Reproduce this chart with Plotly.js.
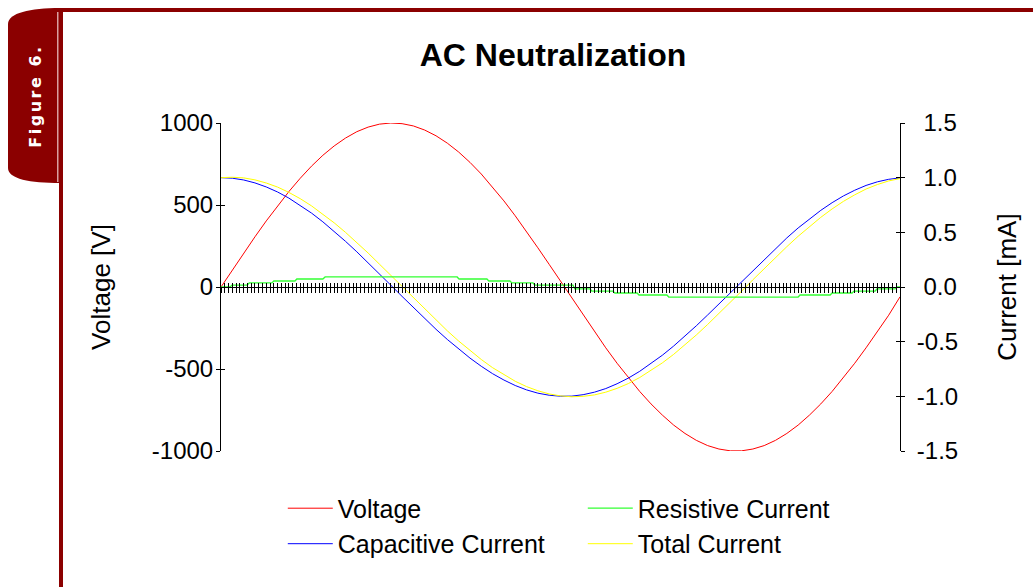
<!DOCTYPE html>
<html>
<head>
<meta charset="utf-8">
<script src="https://cdn.plot.ly/plotly-3.0.1.min.js"></script>
<style>
  html, body { margin: 0; padding: 0; background: #ffffff; }
  #wrap { position: relative; width: 1033px; height: 587px; overflow: hidden; }
  #chart { position: absolute; left: 0; top: 0; width: 1033px; height: 587px; }
  #deco { position: absolute; left: 0; top: 0; pointer-events: none; }
</style>
</head>
<body>
<div id="wrap">
  <div id="chart"></div>
  <svg id="deco" width="1033" height="587" xmlns="http://www.w3.org/2000/svg">
    <path d="M 60 8 L 60 183 C 30 183 8 179 8 168 L 8 24 C 8 13 30 8 60 8 Z" fill="#8b0000"/>
    <rect x="57" y="12" width="1.5" height="170" fill="#d9a0a0"/>
    <rect x="59" y="8" width="4" height="579" fill="#8b0000"/>
    <rect x="59" y="8" width="974" height="4" fill="#8b0000"/>
    <text x="0" y="0" transform="translate(41,96) rotate(-90)" text-anchor="middle"
          font-family="DejaVu Sans, Verdana, sans-serif" font-weight="bold" font-size="16"
          letter-spacing="2.5" fill="#ffffff">Figure 6.</text>
  </svg>
</div>
<script>
// ---- data ----
const chartTitle = "AC Neutralization";
const seriesNames = ["Voltage", "Resistive Current", "Capacitive Current", "Total Current"];

// sample index (x positions of the samples)
const sampleIndex = [0,3,6,9,12,15,18,21,24,27,30,33,36,39,42,45,48,51,54,57,60,63,66,69,72,75,78,81,84,87,90,
  93,96,99,102,105,108,111,114,117,120,123,126,129,132,135,138,141,144,147,150,153,156,159,162,165,168,171,174,177,180];

// Voltage [V]
const voltage = [0,103,206,306,403,495,582,663,737,803,860,908,947,975,993,1000,996,982,957,922,877,823,760,689,610,525,434,338,239,138,35,
  -69,-172,-273,-371,-465,-554,-637,-713,-781,-842,-893,-935,-967,-988,-999,-999,-988,-967,-935,-893,-842,-781,-713,-637,-554,-465,-371,-273,-172,-60];

// Capacitive current [mA]
const capacitiveCurrent = [1.000,0.995,0.979,0.952,0.915,0.869,0.813,0.748,0.676,0.596,0.510,0.418,0.322,0.223,0.120,0.017,-0.086,-0.189,-0.289,-0.387,
  -0.480,-0.568,-0.650,-0.725,-0.793,-0.851,-0.901,-0.941,-0.971,-0.990,-0.999,-0.998,-0.985,-0.962,-0.929,-0.885,-0.833,-0.771,-0.701,-0.624,
  -0.540,-0.449,-0.355,-0.256,-0.155,-0.052,0.052,0.155,0.256,0.355,0.449,0.540,0.624,0.701,0.771,0.833,0.885,0.929,0.962,0.985,0.998];

// Total current [mA]
const totalCurrent = [1.000,1.004,0.998,0.980,0.951,0.914,0.865,0.808,0.742,0.668,0.587,0.500,0.407,0.311,0.209,0.107,0.004,-0.101,-0.203,-0.304,
  -0.401,-0.494,-0.582,-0.663,-0.738,-0.804,-0.862,-0.911,-0.949,-0.978,-0.996,-1.004,-1.000,-0.987,-0.962,-0.927,-0.883,-0.828,-0.765,-0.694,
  -0.616,-0.529,-0.439,-0.343,-0.244,-0.142,-0.038,0.066,0.169,0.271,0.369,0.464,0.554,0.637,0.714,0.783,0.843,0.896,0.937,0.970,0.992];

// Resistive current [mA] (stepped, quantised)
const resistiveIndex = [0,2.4,2.9,6.9,7.5,13.5,14.0,19.6,20.1,27.0,27.6,62.6,63.1,70.5,71.0,76.6,77.1,82.7,83.2,93.3,
  93.8,97.8,98.3,103.9,104.4,110.3,110.8,118.2,118.7,153.0,153.5,161.5,162.0,167.3,167.8,173.4,173.9,178.7,179.2,180];
const resistiveCurrent = [0,0,0.018,0.018,0.037,0.037,0.055,0.055,0.073,0.073,0.092,0.092,0.073,0.073,0.055,0.055,0.037,0.037,0.018,0.018,
  -0.018,-0.018,-0.037,-0.037,-0.055,-0.055,-0.073,-0.073,-0.092,-0.092,-0.073,-0.073,-0.055,-0.055,-0.037,-0.037,-0.018,-0.018,0,0];

// axis ticks
const voltageTicks = [-1000,-500,0,500,1000];
const voltageTickText = ["-1000","-500","0","500","1000"];
const currentTicks = [-1.5,-1.0,-0.5,0.0,0.5,1.0,1.5];
const currentTickText = ["-1.5","-1.0","-0.5","0.0","0.5","1.0","1.5"];
const voltageTitle = "Voltage [V]";
const currentTitle = "Current [mA]";

// ---- chart ----
const FONT = "Liberation Sans, Arial, sans-serif";
// right-axis labels are right-aligned in the reference: pad non-negative labels
const PAD = "\u2008";
const currentTickShown = currentTickText.map(t => (t.charAt(0) === "-" ? t : PAD + t));

const traces = [
  {x: sampleIndex, y: capacitiveCurrent, name: seriesNames[2], yaxis: "y2", mode: "lines",
   line: {color: "#0000ff", width: 1}, legendrank: 3},
  {x: sampleIndex, y: totalCurrent, name: seriesNames[3], yaxis: "y2", mode: "lines",
   line: {color: "#ffff00", width: 1}, legendrank: 4},
  {x: resistiveIndex, y: resistiveCurrent, name: seriesNames[1], yaxis: "y2", mode: "lines",
   line: {color: "#33ff33", width: 1.3}, legendrank: 2},
  {x: sampleIndex, y: voltage, name: seriesNames[0], yaxis: "y", mode: "lines",
   line: {color: "#ff0000", width: 1}, legendrank: 1},
  // empty helper traces so the overlay axes (second half of the crossing ticks) get drawn
  {x: [sampleIndex[0]], y: [null], xaxis: "x2", yaxis: "y3", mode: "lines", showlegend: false, hoverinfo: "skip"},
  {x: [sampleIndex[0]], y: [null], xaxis: "x2", yaxis: "y4", mode: "lines", showlegend: false, hoverinfo: "skip"}
];

const xr = [0, 180];
const layout = {
  width: 1033, height: 587,
  margin: {l: 221, r: 133, t: 123, b: 136},
  paper_bgcolor: "rgba(0,0,0,0)", plot_bgcolor: "rgba(0,0,0,0)",
  font: {family: FONT, size: 24, color: "#000"},
  title: {text: chartTitle, font: {family: FONT, size: 32, weight: "bold", color: "#000"},
          xref: "container", x: 553/1033, xanchor: "center", yref: "container", y: 1 - 55/587, yanchor: "middle"},
  showlegend: true,
  legend: {orientation: "h", x: 0.091, xanchor: "left", y: -0.105, yanchor: "top",
           entrywidth: 240, entrywidthmode: "pixels", itemwidth: 45,
           font: {family: FONT, size: 25, color: "#000"},
           bgcolor: "rgba(0,0,0,0)", traceorder: "normal", tracegroupgap: 0},
  xaxis: {range: xr, anchor: "free", position: 0.5, showline: true, linecolor: "#000", linewidth: 1,
          ticks: "outside", ticklen: 5, tickwidth: 1, tickcolor: "#000", tick0: 0, dtick: 1,
          showticklabels: false, showgrid: false, zeroline: false, fixedrange: true},
  xaxis2: {range: xr, overlaying: "x", anchor: "free", position: 0.5, side: "bottom", showline: false,
          ticks: "inside", ticklen: 4, tickwidth: 1, tickcolor: "#000", tick0: 0, dtick: 1,
          showticklabels: false, showgrid: false, zeroline: false},
  yaxis: {range: [-1000, 1000], tickmode: "array", tickvals: voltageTicks, ticktext: voltageTickText,
          showline: true, linecolor: "#000", linewidth: 1,
          ticks: "outside", ticklen: 4, tickcolor: "#000", showgrid: false, zeroline: false,
          ticklabelstandoff: -2,
          tickfont: {family: FONT, size: 24, color: "#000"},
          title: {text: voltageTitle, font: {family: FONT, size: 26, color: "#000"}, standoff: 33}},
  yaxis3: {range: [-1000, 1000], overlaying: "y", side: "left", tickmode: "array", tickvals: voltageTicks,
          ticks: "inside", ticklen: 4, tickcolor: "#000", showline: false, showticklabels: false, showgrid: false, zeroline: false},
  yaxis2: {range: [-1.5, 1.5], overlaying: "y", side: "right", tickmode: "array", tickvals: currentTicks, ticktext: currentTickShown,
          showline: true, linecolor: "#000", linewidth: 1,
          ticks: "outside", ticklen: 4, tickcolor: "#000", showgrid: false, zeroline: false,
          ticklabelstandoff: 7,
          tickfont: {family: FONT, size: 24, color: "#000"},
          title: {text: currentTitle, font: {family: FONT, size: 26, color: "#000"}, standoff: 40}},
  yaxis4: {range: [-1.5, 1.5], overlaying: "y", side: "right", tickmode: "array", tickvals: currentTicks,
          ticks: "inside", ticklen: 4, tickcolor: "#000", showline: false, showticklabels: false, showgrid: false, zeroline: false}
};

Plotly.newPlot("chart", traces, layout, {staticPlot: true, displayModeBar: false});
</script>
</body>
</html>
